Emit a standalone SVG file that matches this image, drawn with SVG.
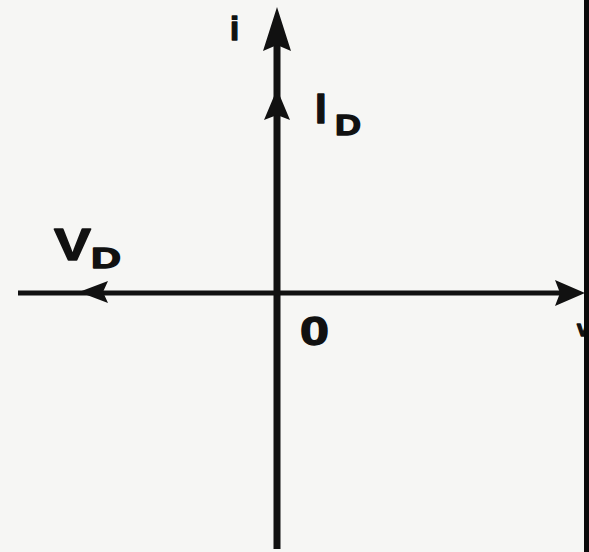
<svg xmlns="http://www.w3.org/2000/svg" width="589" height="552" viewBox="0 0 589 552">
<style>
.ax{stroke:#111;fill:none;stroke-linecap:butt}
.ah{fill:#111;stroke:none}
.lb{font-family:"Liberation Sans",Arial,sans-serif;font-weight:bold;fill:#111;stroke:#111;stroke-width:1.3;stroke-linejoin:round}
</style>
<rect x="0" y="0" width="589" height="552" fill="#f6f6f4"/>
<g id="connectors">
<line class="ax" x1="277" y1="40" x2="277" y2="549" stroke-width="7"/>
<line class="ax" x1="18" y1="293" x2="565" y2="293" stroke-width="5"/>
<path class="ah" d="M277,7 L291,51 L277,45 L263,51 Z"/>
<path class="ah" d="M277,89 L290,120 L277,115 L264,120 Z"/>
<path class="ah" d="M79,292 L108,281 L103,292 L108,303 Z"/>
<path class="ah" d="M585,293 L555,280 L560,293 L555,306 Z"/>
</g>
<g id="label-i"><text class="lb" x="230" y="40" font-size="33">i</text></g>
<g id="label-ID"><text class="lb" x="315" y="123" font-size="42">I</text><text class="lb" x="335" y="135" font-size="30" textLength="26" lengthAdjust="spacingAndGlyphs">D</text></g>
<g id="label-VD"><text class="lb" x="54" y="260" font-size="44" textLength="37" lengthAdjust="spacingAndGlyphs">V</text><text class="lb" x="91" y="268" font-size="29" textLength="30" lengthAdjust="spacingAndGlyphs">D</text></g>
<g id="label-0"><text class="lb" x="300" y="345" font-size="41" textLength="29" lengthAdjust="spacingAndGlyphs">0</text></g>
<g id="label-v"><text class="lb" x="577" y="336" font-size="22">v</text></g>
<rect x="584" y="0" width="5" height="552" fill="#0a0a0a"/>
</svg>
